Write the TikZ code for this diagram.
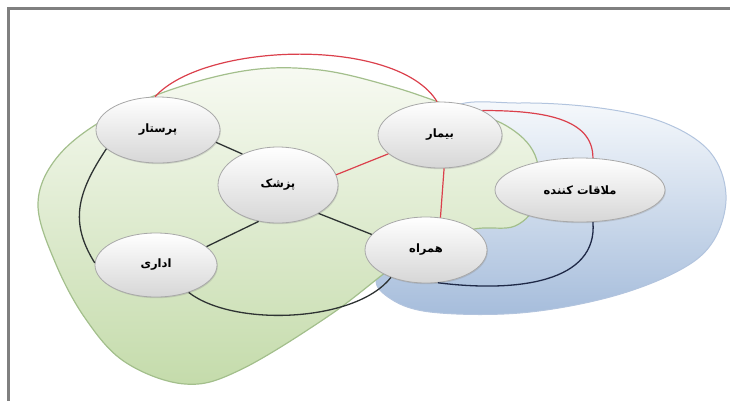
\documentclass[tikz,border=0pt]{standalone}
\usepackage{fontspec}
\newfontfamily\farsifont[Script=Arabic]{DejaVu Sans}
\TeXXeTstate=1
\usetikzlibrary{shapes.geometric,shadows}
\newcommand{\fatext}[1]{{\farsifont\bfseries\beginR #1\endR}}

\begin{document}
\begin{tikzpicture}[x=1pt,y=-1pt,
  role/.style={ellipse,draw=kEdge,line width=0.8pt,top color=white,bottom color=kShade,
    drop shadow={shadow xshift=0.8pt,shadow yshift=-1.2pt,opacity=0.25},
    inner sep=0pt,font=\fontsize{11.5}{13}\selectfont},
  redlink/.style={kRed,line width=1.2pt},
  darklink/.style={kDark,line width=1.3pt}]
  \definecolor{kGrey}{rgb}{0.5,0.5,0.5}
  \definecolor{kEdge}{rgb}{0.66,0.66,0.66}
  \definecolor{kShade}{rgb}{0.84,0.84,0.84}
  \definecolor{kRed}{rgb}{0.86,0.25,0.30}
  \definecolor{kDark}{rgb}{0.18,0.20,0.20}
  \definecolor{kNavy}{rgb}{0.12,0.16,0.28}
  \definecolor{kGreenTop}{rgb}{0.97,0.98,0.95}
  \definecolor{kGreenBot}{rgb}{0.77,0.86,0.67}
  \definecolor{kGreenEdge}{rgb}{0.64,0.75,0.55}
  \definecolor{kBlueTop}{rgb}{0.97,0.98,0.99}
  \definecolor{kBlueBot}{rgb}{0.65,0.74,0.86}
  \definecolor{kBlueEdge}{rgb}{0.70,0.77,0.87}

  \useasboundingbox (0,0) rectangle (730,400);

  % frame
  \draw[kGrey,line width=3pt] (8.5,402) -- (8.5,8.5) -- (732,8.5);

  % groups
  \draw[kBlueEdge,line width=1pt,top color=kBlueTop,bottom color=kBlueBot]
    plot[smooth cycle,tension=0.6] coordinates {(450,110) (520,103) (600,108) (665,123)
      (710,152) (726,195) (714,240) (680,270) (610,297) (520,313) (430,312) (388,297)
      (378,275) (420,240) (450,180)};
  \draw[kGreenEdge,line width=1.2pt,top color=kGreenTop,bottom color=kGreenBot]
    plot[smooth cycle,tension=0.6] coordinates {(38,205) (55,160) (100,122) (170,90)
      (250,70) (320,70) (390,86) (450,106) (505,125) (535,155) (537,200) (515,226)
      (470,230) (410,255) (330,315) (240,370) (185,384) (125,362) (85,318) (55,262)};

  % roles
  \node[role,minimum width=124pt,minimum height=66pt] (parastar) at (158,130) {\fatext{پرستار}};
  \node[role,minimum width=120pt,minimum height=76pt] (pezeshk) at (278,185) {\fatext{پزشک}};
  \node[role,minimum width=124pt,minimum height=66pt] (bimar) at (440,135) {\fatext{بیمار}};
  \node[role,minimum width=170pt,minimum height=64pt] (molaghat) at (580,190) {\fatext{ملاقات کننده}};
  \node[role,minimum width=122pt,minimum height=64pt] (edari) at (156,265) {\fatext{اداری}};
  \node[role,minimum width=122pt,minimum height=66pt] (hamrah) at (426,250) {\fatext{همراه}};

  % links
  \draw[redlink] (parastar.95) .. controls +(50,-55) and +(-40,-65) .. (bimar.95);
  \draw[redlink] (bimar.30) .. controls +(60,0) and +(0,-40) .. (molaghat.68);
  \draw[redlink] (bimar.200) -- (pezeshk.10);
  \draw[redlink] (bimar.-83) -- (hamrah.66);

  \draw[darklink] (parastar.-12) -- (pezeshk.139);
  \draw[darklink] (parastar.200) .. controls +(-30,45) and +(-25,-40) .. (edari.178);
  \draw[darklink] (pezeshk.242) -- (edari.20);
  \draw[darklink] (pezeshk.-35) -- (hamrah.164);
  \draw[darklink] (edari.-40) .. controls +(45,35) and +(-35,45) .. (hamrah.218);
  \draw[darklink,kNavy] (hamrah.-70) .. controls +(80,10) and +(5,60) .. (molaghat.-68);

\end{tikzpicture}
\end{document}
